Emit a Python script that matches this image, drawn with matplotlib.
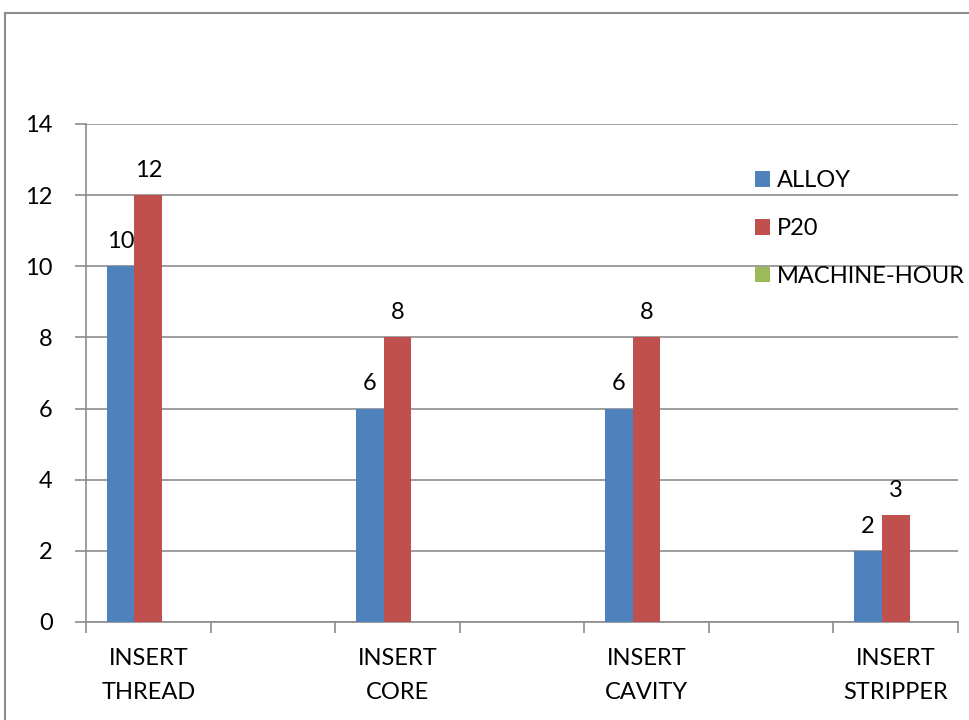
import matplotlib
matplotlib.use("Agg")
import matplotlib.pyplot as plt
from matplotlib.lines import Line2D
import numpy as np

categories = ["INSERT\nTHREAD", "INSERT\nCORE", "INSERT\nCAVITY", "INSERT\nSTRIPPER"]
alloy = [10, 6, 6, 2]
p20 = [12, 8, 8, 3]
machine_hour = [0, 0, 0, 0]
series_names = ["ALLOY", "P20", "MACHINE-HOUR"]
colors = ["#4F81BD", "#C0504D", "#9BBB59"]
y_ticks = [0, 2, 4, 6, 8, 10, 12, 14]

plt.rcParams["font.family"] = ["Lato", "DejaVu Sans"]
FS = 17

fig = plt.figure(figsize=(9.69, 7.2), dpi=100)
fig.patch.set_facecolor("white")

# chart frame (top and left edges visible)
fig.add_artist(Line2D([5 / 969, 5 / 969], [0, 1 - 13 / 720], transform=fig.transFigure,
                      color="#8c8c8c", lw=1.5))
fig.add_artist(Line2D([5 / 969, 1], [1 - 13 / 720, 1 - 13 / 720], transform=fig.transFigure,
                      color="#8c8c8c", lw=1.5))

ax = fig.add_axes([86 / 969, 1 - 622 / 720, (958 - 86) / 969, (622 - 124) / 720])

# each category occupies two slots: one with bars, one empty
x = np.arange(len(categories)) * 2
w = 1 / 4.5
all_series = [alloy, p20, machine_hour]
for i, (vals, name, c) in enumerate(zip(all_series, series_names, colors)):
    bars = ax.bar(x + (i - 1) * w, vals, width=w, color=c, label=name, zorder=3, linewidth=0)
    if name != "MACHINE-HOUR":
        for b, v in zip(bars, vals):
            ax.text(b.get_x() + b.get_width() / 2, v + 0.4, f"{v}", ha="center", va="bottom",
                    fontsize=FS, color="black")

ax.set_xlim(-0.5, 2 * len(categories) - 1.5)
ax.set_ylim(0, 14)
ax.set_yticks(y_ticks)
ax.set_yticklabels([str(t) for t in y_ticks], fontsize=FS)
ax.yaxis.grid(True, color="#8c8c8c", lw=1.2, zorder=0)
ax.set_axisbelow(True)

ax.set_xticks(x)
ax.set_xticklabels(categories, fontsize=FS, linespacing=1.75)
ax.set_xticks(np.arange(-0.5, 2 * len(categories) - 1, 1), minor=True)
ax.tick_params(axis="x", which="major", length=0, pad=19)
ax.tick_params(axis="x", which="minor", length=8, color="#8c8c8c", width=1.2)
ax.tick_params(axis="y", length=8, color="#8c8c8c", width=1.2, pad=16)

for s in ["top", "right"]:
    ax.spines[s].set_visible(False)
for s in ["left", "bottom"]:
    ax.spines[s].set_color("#8c8c8c")
    ax.spines[s].set_linewidth(1.2)

leg = ax.legend(loc="upper left", bbox_to_anchor=(0.767, 0.907), frameon=False, fontsize=FS,
                handlelength=0.65, handleheight=0.65, handletextpad=0.3, labelspacing=1.13,
                borderaxespad=0, borderpad=0)

fig.savefig("out.png", dpi=100)
